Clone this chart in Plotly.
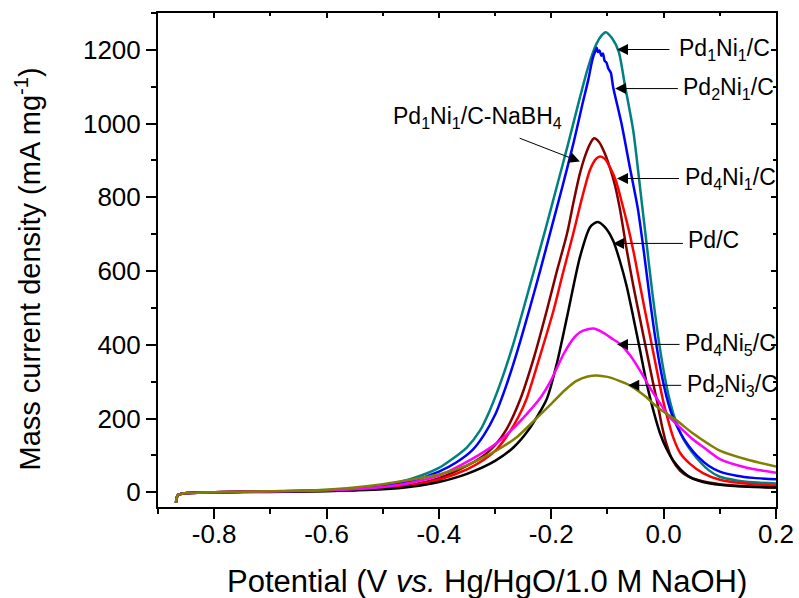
import plotly.graph_objects as go

# ---------------- data ----------------
x_pd1ni1 = [-0.868, -0.8665, -0.864, -0.858, -0.845, -0.8, -0.7, -0.6, -0.55, -0.5, -0.45, -0.4, -0.38, -0.35, -0.327,
            -0.31, -0.291, -0.27, -0.25, -0.23, -0.21, -0.19, -0.17, -0.15, -0.135, -0.12, -0.11, -0.103, -0.092,
            -0.08, -0.069, -0.054, -0.04, -0.03, -0.02, -0.01, 0.0, 0.01, 0.02, 0.035, 0.05, 0.065, 0.08, 0.1,
            0.13, 0.16, 0.2]
y_pd1ni1 = [-28, -14, -7, -4, -2, 0, 2, 6, 10, 18, 36, 66, 86, 122, 167,
            220, 294, 390, 495, 605, 715, 830, 945, 1065, 1150, 1215, 1240, 1248, 1232,
            1195, 1105, 980, 800, 670, 540, 425, 330, 255, 200, 145, 110, 82, 60, 42,
            32, 27, 24]

x_pd2ni1 = [-0.868, -0.8665, -0.864, -0.858, -0.845, -0.8, -0.7, -0.6, -0.55, -0.5, -0.45, -0.4, -0.37, -0.34, -0.32,
            -0.3, -0.28, -0.26, -0.24, -0.22, -0.2, -0.18, -0.16, -0.145, -0.134, -0.128, -0.124, -0.121, -0.119,
            -0.117, -0.114, -0.111, -0.108, -0.105, -0.102, -0.098, -0.094, -0.09, -0.075, -0.06, -0.046, -0.035,
            -0.025, -0.015, -0.005, 0.005, 0.015, 0.03, 0.045, 0.06, 0.08, 0.1, 0.13, 0.16, 0.2]
y_pd2ni1 = [-28, -14, -7, -4, -2, 0, 2, 5, 9, 16, 30, 56, 80, 115, 155,
            210, 290, 385, 490, 600, 715, 830, 950, 1050, 1120, 1165, 1188, 1198, 1206,
            1194, 1198, 1184, 1190, 1170, 1166, 1148, 1138, 1100, 1000, 880, 770, 650,
            530, 420, 330, 260, 210, 160, 125, 98, 72, 56, 45, 39, 35]

x_nabh4 = [-0.868, -0.8665, -0.864, -0.858, -0.845, -0.8, -0.7, -0.6, -0.55, -0.5, -0.45, -0.4, -0.35, -0.32, -0.3,
           -0.28, -0.255, -0.23, -0.208, -0.19, -0.172, -0.16, -0.149, -0.138, -0.13, -0.124, -0.115, -0.105,
           -0.096, -0.087, -0.078, -0.066, -0.054, -0.042, -0.03, -0.02, -0.012, -0.003, 0.005, 0.015, 0.029,
           0.045, 0.064, 0.1, 0.15, 0.2]
y_nabh4 = [-28, -14, -7, -4, -2, 0, 2, 4, 7, 11, 20, 38, 72, 100, 128,
           170, 253, 370, 493, 600, 701, 790, 865, 920, 948, 960, 950, 920,
           882, 835, 770, 660, 560, 470, 380, 305, 249, 180, 131, 90, 59,
           42, 32, 22, 16, 13]

x_pd4ni1 = [-0.868, -0.8665, -0.864, -0.858, -0.845, -0.8, -0.7, -0.6, -0.55, -0.5, -0.45, -0.4, -0.35, -0.32, -0.3,
            -0.28, -0.26, -0.244, -0.22, -0.196, -0.18, -0.161, -0.145, -0.131, -0.12, -0.113, -0.105, -0.095,
            -0.085, -0.075, -0.065, -0.054, -0.04, -0.025, -0.012, -0.001, 0.008, 0.017, 0.03, 0.047, 0.07, 0.1,
            0.15, 0.2]
y_pd4ni1 = [-28, -14, -7, -4, -2, 0, 2, 4, 6, 10, 18, 34, 62, 88, 112,
            150, 200, 253, 370, 493, 590, 701, 800, 875, 905, 911, 905, 880,
            845, 790, 730, 656, 545, 430, 330, 249, 195, 149, 105, 77, 52, 34,
            23, 18]

x_pdc = [-0.868, -0.8665, -0.864, -0.858, -0.845, -0.8, -0.7, -0.6, -0.55, -0.5, -0.45, -0.4, -0.35, -0.3, -0.267,
         -0.24, -0.208, -0.19, -0.172, -0.149, -0.131, -0.118, -0.105, -0.09, -0.078, -0.066, -0.054, -0.042,
         -0.03, -0.018, -0.006, 0.005, 0.017, 0.03, 0.047, 0.07, 0.1, 0.15, 0.2]
y_pdc = [-28, -14, -7, -4, -2, 0, 1, 3, 5, 8, 15, 28, 50, 85, 122,
         170, 253, 350, 475, 638, 719, 733, 720, 683, 628, 560, 475, 385,
         294, 220, 158, 118, 86, 62, 41, 28, 20, 15, 13]

x_pd4ni5 = [-0.868, -0.8665, -0.864, -0.858, -0.845, -0.8, -0.7, -0.6, -0.55, -0.5, -0.45, -0.4, -0.357, -0.33, -0.3,
            -0.27, -0.245, -0.22, -0.2, -0.178, -0.16, -0.149, -0.135, -0.125, -0.11, -0.09, -0.078, -0.06, -0.042,
            -0.025, -0.006, 0.01, 0.029, 0.05, 0.071, 0.1, 0.15, 0.2]
y_pd4ni5 = [-28, -14, -7, -4, -2, 0, 2, 5, 8, 14, 26, 45, 77, 100, 130,
            170, 210, 255, 305, 375, 418, 434, 442, 444, 435, 415, 403, 372, 330,
            285, 240, 205, 176, 146, 122, 90, 66, 53]

x_pd2ni3 = [-0.868, -0.8665, -0.864, -0.858, -0.845, -0.8, -0.7, -0.6, -0.55, -0.5, -0.45, -0.4, -0.35, -0.32, -0.29,
            -0.261, -0.23, -0.2, -0.175, -0.155, -0.135, -0.119, -0.1, -0.08, -0.06, -0.035, -0.012, 0.01, 0.023,
            0.05, 0.083, 0.1, 0.15, 0.2]
y_pd2ni3 = [-28, -14, -7, -4, -2, 0, 3, 7, 13, 22, 34, 48, 73, 95, 120,
            150, 195, 240, 278, 302, 314, 317, 313, 303, 290, 263, 232, 208, 195,
            162, 128, 113, 88, 70]

series_names = ["Pd1Ni1/C", "Pd2Ni1/C", "Pd1Ni1/C-NaBH4", "Pd4Ni1/C", "Pd/C", "Pd4Ni5/C", "Pd2Ni3/C"]
series_x = [x_pd1ni1, x_pd2ni1, x_nabh4, x_pd4ni1, x_pdc, x_pd4ni5, x_pd2ni3]
series_y = [y_pd1ni1, y_pd2ni1, y_nabh4, y_pd4ni1, y_pdc, y_pd4ni5, y_pd2ni3]
series_colors = ["#008080", "#0000FF", "#800000", "#FF0000", "#000000", "#FF00FF", "#808000"]

xtick_vals = [-0.8, -0.6, -0.4, -0.2, 0.0, 0.2]
xtick_text = ["-0.8", "-0.6", "-0.4", "-0.2", "0.0", "0.2"]
ytick_vals = [0, 200, 400, 600, 800, 1000, 1200]
ytick_text = ["0", "200", "400", "600", "800", "1000", "1200"]

# labels: (text, tip x, tip y, tail x, tail y, text x, text y, anchor)
labels = [
    ("Pd<sub>1</sub>Ni<sub>1</sub>/C", -0.083, 1201, 0.013, 1201, 0.024, 1201, "left"),
    ("Pd<sub>2</sub>Ni<sub>1</sub>/C", -0.0865, 1095, 0.028, 1095, 0.031, 1095, "left"),
    ("Pd<sub>1</sub>Ni<sub>1</sub>/C-NaBH<sub>4</sub>", -0.149, 897, -0.259, 962, -0.332, 1016, "center"),
    ("Pd<sub>4</sub>Ni<sub>1</sub>/C", -0.083, 851, 0.030, 851, 0.035, 851, "left"),
    ("Pd/C", -0.090, 675, 0.037, 675, 0.039, 683, "left"),
    ("Pd<sub>4</sub>Ni<sub>5</sub>/C", -0.083, 401, 0.031, 401, 0.034, 401, "left"),
    ("Pd<sub>2</sub>Ni<sub>3</sub>/C", -0.063, 290, 0.034, 290, 0.038, 290, "left"),
]

FONT = "Liberation Sans, Arial, sans-serif"
X_RANGE = [-0.9, 0.2]
Y_RANGE = [-40, 1300]

fig = go.Figure()
for name, xs, ys, c in zip(series_names, series_x, series_y, series_colors):
    fig.add_trace(go.Scatter(x=xs, y=ys, mode="lines", name=name,
                             line=dict(color=c, width=2.5, shape="spline", smoothing=0.7),
                             showlegend=False, hoverinfo="skip"))
# dummy trace for the mirrored (top/right) axes
fig.add_trace(go.Scatter(x=[None], y=[None], xaxis="x2", yaxis="y2", showlegend=False, hoverinfo="skip"))

annotations = []
for text, tx, ty, ax, ay, lx, ly, anc in labels:
    annotations.append(dict(x=tx, y=ty, ax=ax, ay=ay, xref="x", yref="y", axref="x", ayref="y",
                            text="", showarrow=True, arrowhead=2, arrowsize=2.2, arrowwidth=1,
                            arrowcolor="black", standoff=0, startstandoff=0))
    annotations.append(dict(x=lx, y=ly, xref="x", yref="y", text=text, showarrow=False,
                            xanchor=anc, yanchor="middle", font=dict(family=FONT, size=23, color="black")))

annotations.append(dict(x=0.532, y=-0.15, xref="paper", yref="paper", showarrow=False,
                        text="Potential (V <i>vs.</i> Hg/HgO/1.0 M NaOH)", xanchor="center", yanchor="middle",
                        font=dict(family=FONT, size=31, color="black")))
annotations.append(dict(x=-0.211, y=0.482, xref="paper", yref="paper", showarrow=False, textangle=-90,
                        text="Mass current density (mA mg<sup>-1</sup>)", xanchor="center", yanchor="middle",
                        font=dict(family=FONT, size=29, color="black")))

axis_common = dict(showline=True, linecolor="black", linewidth=2, showgrid=False, zeroline=False,
                   tickcolor="black", tickwidth=2, automargin=False)

fig.update_layout(
    width=799, height=598,
    margin=dict(l=158, r=23, t=13, b=91, autoexpand=False),
    paper_bgcolor="white", plot_bgcolor="white",
    font=dict(family=FONT, size=26, color="black"),
    annotations=annotations,
    xaxis=dict(range=X_RANGE, tickvals=xtick_vals, ticktext=xtick_text, ticks="outside", ticklen=10,
               ticklabelstandoff=-7,
               minor=dict(dtick=0.1, tick0=0, ticks="outside", ticklen=5, tickcolor="black", tickwidth=2),
               tickfont=dict(family=FONT, size=26), **axis_common),
    yaxis=dict(range=Y_RANGE, tickvals=ytick_vals, ticktext=ytick_text, ticks="outside", ticklen=10,
               minor=dict(dtick=100, tick0=0, ticks="outside", ticklen=5, tickcolor="black", tickwidth=2),
               tickfont=dict(family=FONT, size=26), **axis_common),
    xaxis2=dict(range=X_RANGE, overlaying="x", side="top", anchor="y", tickvals=xtick_vals, ticks="inside",
                ticklen=5, showticklabels=False,
                minor=dict(dtick=0.1, tick0=0, ticks="inside", ticklen=3, tickcolor="black", tickwidth=1.5),
                **axis_common),
    yaxis2=dict(range=Y_RANGE, overlaying="y", side="right", anchor="x", tickvals=ytick_vals, ticks="inside",
                ticklen=5, showticklabels=False,
                minor=dict(dtick=100, tick0=0, ticks="inside", ticklen=3, tickcolor="black", tickwidth=1.5),
                **axis_common),
)

fig.write_html("out.html", config={"displayModeBar": False},
               post_script="document.body.style.margin='0px'; document.body.style.overflow='hidden';")
